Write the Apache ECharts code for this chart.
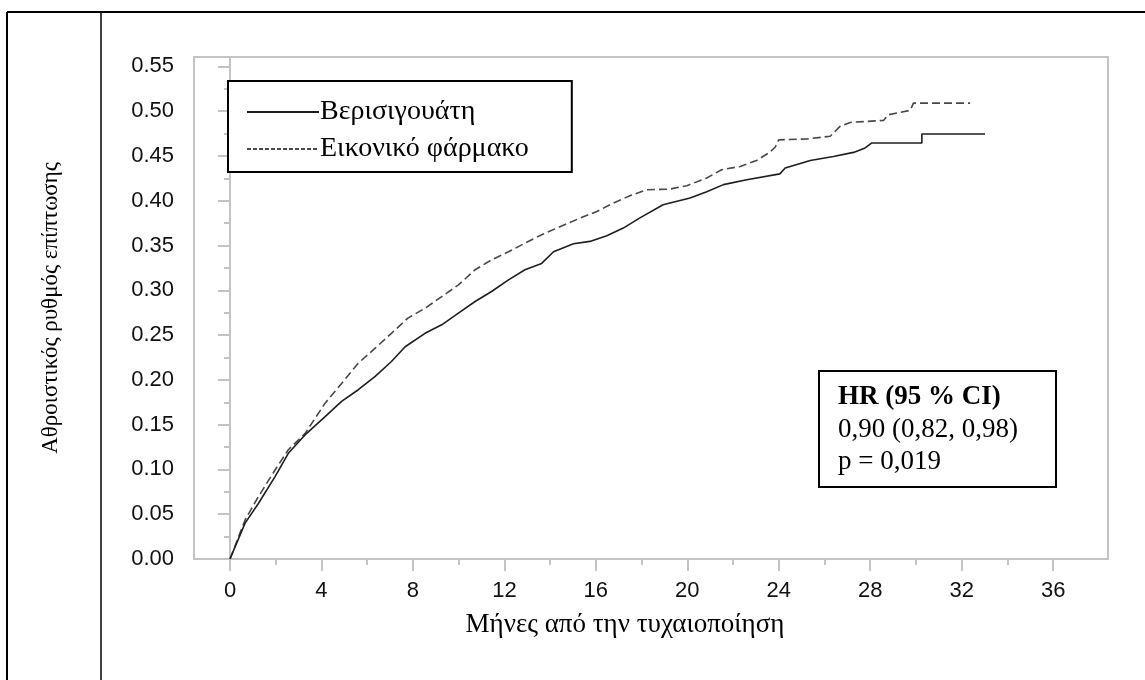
<!DOCTYPE html>
<html>
<head>
    <meta charset="utf-8">
    <title>Αθροιστικός ρυθμός επίπτωσης</title>
    <script src="https://cdn.jsdelivr.net/npm/echarts@6/dist/echarts.min.js"></script>
    <style>
        html, body { margin: 0; padding: 0; background: #fff; }
        #main { width: 1145px; height: 680px; }
    </style>
</head>
<body>
<div id="main"></div>
<script type="text/javascript">
    // months since randomisation / cumulative incidence
    var veriMonths = [0, 0.66, 1.24, 1.97, 2.55, 3.28, 4.16, 4.88, 5.61, 6.35, 7.06, 7.66, 8.53, 9.26, 9.99,
        10.72, 11.44, 12.18, 12.9, 13.63, 14.15, 15.02, 15.74, 16.48, 17.2, 17.91, 18.94, 20.12, 20.85,
        21.58, 22.6, 24.05, 24.28, 25.38, 26.39, 27.27, 27.78, 28.07, 30.26, 30.26, 33.02];
    var veriRate = [0, 0.040, 0.062, 0.092, 0.118, 0.1385, 0.159, 0.176, 0.189, 0.204, 0.2205, 0.237,
        0.252, 0.2615, 0.2745, 0.2875, 0.2987, 0.3117, 0.323, 0.330, 0.343, 0.352, 0.3546, 0.361,
        0.3695, 0.3806, 0.3955, 0.403, 0.410, 0.418, 0.4235, 0.430, 0.4365, 0.445, 0.4495, 0.454,
        0.459, 0.4645, 0.4645, 0.4745, 0.4745];

    var placMonths = [0, 0.66, 1.24, 1.97, 2.55, 3.28, 4.16, 4.88, 5.61, 6.35, 7.06, 7.78, 8.53, 9.26, 9.99,
        10.72, 11.44, 12.18, 12.9, 13.63, 14.43, 15.31, 16.04, 16.77, 17.49, 18.22, 19.24, 19.98, 20.85,
        21.5, 22.31, 23.03, 23.6, 23.85, 24.0, 25.22, 26.25, 26.68, 27.13, 28.58, 28.79, 29.75, 29.89, 32.37];
    var placRate = [0, 0.0436, 0.0696, 0.0994, 0.122, 0.140, 0.174, 0.196, 0.2187, 0.2354, 0.252, 0.269,
        0.280, 0.293, 0.306, 0.323, 0.334, 0.343, 0.3527, 0.362, 0.371, 0.3806, 0.388, 0.3974, 0.4056,
        0.4123, 0.413, 0.4168, 0.4254, 0.4346, 0.4383, 0.445, 0.454, 0.460, 0.468, 0.469, 0.472, 0.483,
        0.4875, 0.4897, 0.496, 0.501, 0.509, 0.509];

    var xTicks = [0, 4, 8, 12, 16, 20, 24, 28, 32, 36];
    var xMinorTicks = [2, 6, 10, 14, 18, 22, 26, 30, 34];
    var yTicks = [0, 0.05, 0.10, 0.15, 0.20, 0.25, 0.30, 0.35, 0.40, 0.45, 0.50, 0.55];
    var yMinorTicks = [0.025, 0.075, 0.125, 0.175, 0.225, 0.275, 0.325, 0.375, 0.425, 0.475, 0.525];

    var seriesNames = ['Βερισιγουάτη', 'Εικονικό φάρμακο'];
    var hrLines = ['HR (95 % CI)', '0,90 (0,82, 0,98)', 'p = 0,019'];

    function zip(xs, ys) {
        var out = [];
        for (var i = 0; i < xs.length; i++) {
            out.push([xs[i], ys[i]]);
        }
        return out;
    }

    var axisGrey = '#c4c4c4';
    var serif = '"Liberation Serif", "Times New Roman", serif';
    var sans = '"Liberation Sans", Arial, sans-serif';
    var xMin = -1.575, xMax = 38.4, yMax = 0.5605;

    var myChart = echarts.init(document.getElementById('main'));

    var option = {
        animation: false,
        backgroundColor: '#fff',
        grid: {
            left: 194, top: 57, width: 914, height: 502,
            show: true,
            borderColor: axisGrey,
            borderWidth: 2
        },
        legend: {
            data: [
                { name: seriesNames[0] },
                { name: seriesNames[1], lineStyle: { type: [4, 2], color: '#111', width: 1.3 } }
            ],
            orient: 'vertical',
            left: 228,
            top: 81,
            padding: [16, 43, 8, 18],
            itemWidth: 72,
            itemHeight: 14,
            itemGap: 7,
            borderColor: '#000',
            borderWidth: 2,
            backgroundColor: '#fff',
            itemStyle: { opacity: 0 },
            textStyle: { fontFamily: serif, fontSize: 28, color: '#000', lineHeight: 30, padding: [0, 0, 0, -4] }
        },
        xAxis: [
            {
                type: 'value',
                min: xMin,
                max: xMax,
                name: 'Μήνες από την τυχαιοποίηση',
                nameLocation: 'middle',
                nameGap: 52,
                nameTextStyle: { fontFamily: serif, fontSize: 27, color: '#000', padding: [0, 52, 0, 0] },
                axisLine: { show: true, lineStyle: { color: axisGrey, width: 2 } },
                axisTick: { show: true, customValues: xTicks, length: 12, lineStyle: { color: axisGrey, width: 2 } },
                axisLabel: { customValues: xTicks, margin: 21, fontFamily: sans, fontSize: 22, color: '#111' },
                splitLine: { show: false }
            },
            {
                type: 'value',
                min: xMin,
                max: xMax,
                position: 'bottom',
                axisLine: { show: false },
                axisTick: { show: true, customValues: xMinorTicks, length: 6, lineStyle: { color: axisGrey, width: 2 } },
                axisLabel: { show: false },
                splitLine: { show: false }
            }
        ],
        yAxis: [
            {
                type: 'value',
                min: 0,
                max: yMax,
                name: 'Αθροιστικός ρυθμός επίπτωσης',
                nameLocation: 'middle',
                nameRotate: 90,
                nameGap: 132,
                nameTextStyle: { fontFamily: serif, fontSize: 23, color: '#000' },
                axisLine: { show: true, lineStyle: { color: axisGrey, width: 2 } },
                axisTick: { show: true, customValues: yTicks, length: 12, lineStyle: { color: axisGrey, width: 2 } },
                axisLabel: {
                    customValues: yTicks, margin: 20, fontFamily: sans, fontSize: 22, color: '#111',
                    formatter: function (v) { return v.toFixed(2); }
                },
                splitLine: { show: false }
            },
            {
                type: 'value',
                min: 0,
                max: yMax,
                position: 'left',
                axisLine: { show: false },
                axisTick: { show: true, customValues: yMinorTicks, length: 6, lineStyle: { color: axisGrey, width: 2 } },
                axisLabel: { show: false },
                splitLine: { show: false }
            }
        ],
        series: [
            {
                name: seriesNames[0],
                type: 'line',
                xAxisIndex: 0,
                yAxisIndex: 0,
                symbol: 'none',
                data: zip(veriMonths, veriRate),
                lineStyle: { color: '#1e1e1e', width: 1.6 },
                itemStyle: { color: '#1e1e1e' },
                z: 3
            },
            {
                name: seriesNames[1],
                type: 'line',
                xAxisIndex: 0,
                yAxisIndex: 0,
                symbol: 'none',
                data: zip(placMonths, placRate),
                lineStyle: { color: '#484848', width: 1.6, type: [8, 4] },
                itemStyle: { color: '#484848' },
                z: 2
            }
        ],
        graphic: [
            // page frame of the figure
            { type: 'line', shape: { x1: 7, y1: 12, x2: 1145, y2: 12 }, style: { stroke: '#000', lineWidth: 2 } },
            { type: 'line', shape: { x1: 7, y1: 12, x2: 7, y2: 680 }, style: { stroke: '#000', lineWidth: 2 } },
            { type: 'line', shape: { x1: 101, y1: 12, x2: 101, y2: 680 }, style: { stroke: '#000', lineWidth: 1.5 } },
            // HR box
            {
                type: 'group',
                left: 818,
                top: 370,
                z: 10,
                children: [
                    {
                        type: 'rect',
                        shape: { x: 0, y: 0, width: 237, height: 116 },
                        style: { fill: '#fff', stroke: '#000', lineWidth: 2 }
                    },
                    {
                        type: 'text',
                        x: 19,
                        y: 10,
                        style: {
                            text: '{b|' + hrLines[0] + '}\n' + hrLines[1] + '\n' + hrLines[2],
                            fontFamily: serif,
                            fontSize: 27,
                            lineHeight: 32.5,
                            fill: '#000',
                            rich: {
                                b: { fontFamily: serif, fontSize: 27, fontWeight: 'bold', lineHeight: 32.5, fill: '#000' }
                            }
                        }
                    }
                ]
            }
        ]
    };

    myChart.setOption(option);
</script>
</body>
</html>
